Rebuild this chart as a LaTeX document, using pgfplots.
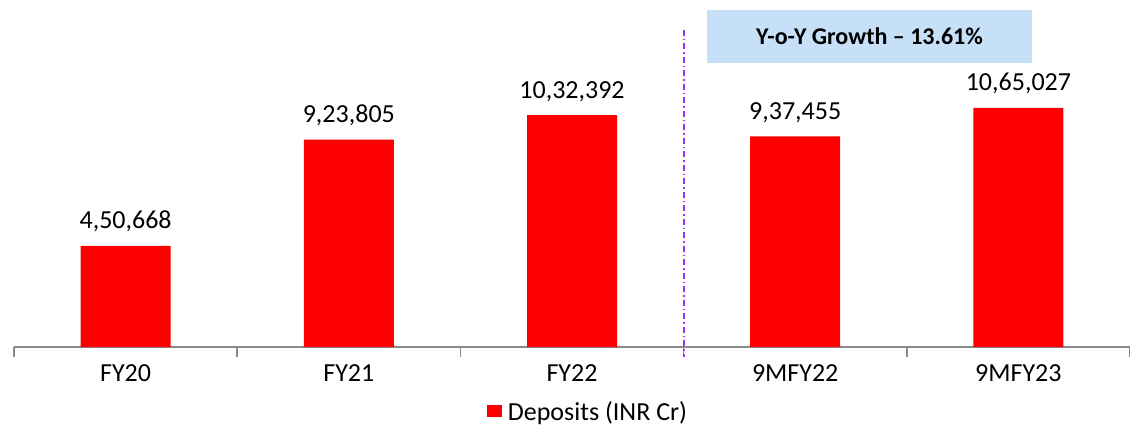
\documentclass[border=0pt]{standalone}
\usepackage{fontspec}
\setmainfont{Carlito}
\usepackage{pgfplots}
\pgfplotsset{compat=1.18}
\usepackage{pgfplotstable}
\definecolor{barred}{RGB}{255,0,0}
\definecolor{axgray}{RGB}{137,137,137}
\definecolor{boxblue}{RGB}{198,224,248}
\definecolor{divpurple}{RGB}{153,51,255}

\pgfplotstableread{
x y label
0 450668 4,50,668
1 923805 9,23,805
2 1032392 10,32,392
3 937455 9,37,455
4 1065027 10,65,027
}\deposits

\begin{document}
\begin{tikzpicture}
\begin{axis}[
  scale only axis, width=1116pt, height=347pt,
  xmin=-0.5, xmax=4.5, ymin=0, ymax=1545000,
  clip=false,
  axis x line*=bottom, axis y line=none,
  x axis line style={draw=axgray, line width=1.5pt},
  xtick={0,1,2,3,4},
  xticklabels={FY20,FY21,FY22,9MFY22,9MFY23},
  major tick length=0pt,
  tick align=outside,
  extra x ticks={-0.5,0.5,1.5,2.5,3.5,4.5},
  extra x tick labels={},
  extra x tick style={major tick length=10pt, tick style={draw=axgray, line width=1.5pt}},
  xticklabel style={font=\fontsize{26}{31}\selectfont, text=black, yshift=-14pt},
  legend style={at={(0.5,0)}, anchor=north, xshift=16pt, yshift=-50pt, draw=none, fill=none,
    font=\fontsize{26}{31}\selectfont, column sep=4pt},
  legend image code/.code={\fill[barred] (0pt,-6pt) rectangle (15pt,6pt);},
]
\addplot[ybar, bar width=90pt, fill=barred, draw=none,
  nodes near coords, point meta=explicit symbolic,
  nodes near coords style={font=\fontsize{26}{31}\selectfont, text=black, anchor=base, inner sep=0pt, yshift=17pt}]
  table[x=x, y=y, meta=label]{\deposits};
\addlegendentry{Deposits (INR Cr)}
\draw[draw=divpurple, line width=1.8pt, dash pattern=on 6pt off 3pt on 1.5pt off 3pt] (axis cs:2.5,1412000) -- (axis cs:2.5,-44500);
\fill[boxblue] (axis cs:2.605,1265000) rectangle (axis cs:4.061,1501000);
\node[font=\fontsize{24}{28}\selectfont\bfseries] at (axis cs:3.333,1383000) {Y-o-Y Growth -- 13.61\%};
\coordinate (ll) at (rel axis cs:0,0);
\coordinate (ur) at (rel axis cs:1,1);
\end{axis}
\pgfresetboundingbox
\path[use as bounding box] ([xshift=-14pt,yshift=-78pt]ll) rectangle (ur);
\end{tikzpicture}
\end{document}
